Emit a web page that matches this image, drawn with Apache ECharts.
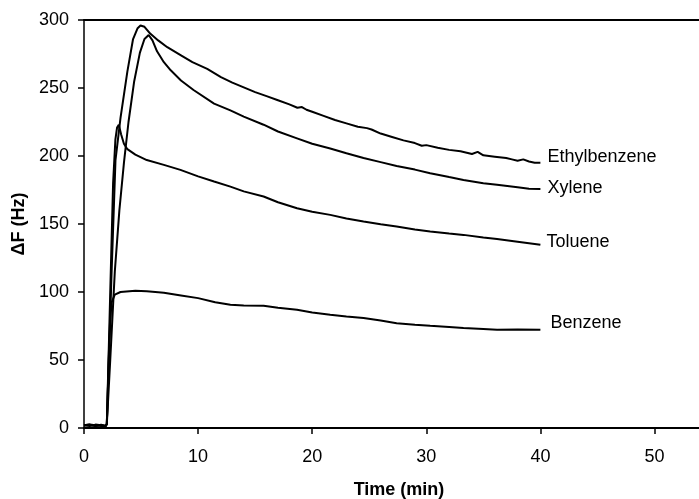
<!DOCTYPE html>
<html>
<head>
<meta charset="utf-8">
<script src="https://cdn.jsdelivr.net/npm/echarts@6/dist/echarts.min.js"></script>
<style>html,body{margin:0;padding:0;background:#fff}#c{width:699px;height:499px}</style>
</head>
<body>
<div id="c"></div>
<script>
// ---- data (time in min, ΔF in Hz) ----
var xTicks = [0, 10, 20, 30, 40, 50];
var yTicks = [0, 50, 100, 150, 200, 250, 300];

var ethylT = [0,0.5,1,1.5,1.9,2.0,2.4,2.76,3.2,3.8,4.3,4.7,4.95,5.3,5.8,6.5,7.3,8.5,9.5,10.8,12,13,14,15,16,17,18,18.7,19.1,19.5,20,21,22,23,24,24.8,25.2,26,27,28,29,29.6,30,31,32,33,34,34.5,35,36,37,37.5,38,38.5,39,39.5,40];
var ethylY = [2,2.5,1.5,2,1.5,3,110,197,228,262,286,294,296,295,290,285,280,274,269,264,258,254,250.5,247,244,241,238,235.5,236,234,232.5,229.5,226.5,224,221.5,220.5,219.5,216.5,214,211.5,209.5,207.5,208,206,204.5,203.5,201.5,203,200.5,199.5,198.5,197.5,196.5,197.5,196,195,195];

var xyleneT = [0,0.5,1,1.5,1.9,2.0,2.3,2.7,3.1,3.5,3.9,4.4,4.9,5.3,5.67,6.0,6.4,7.0,7.6,8.5,9.6,11.4,12.83,14,15.74,17,18.67,20,21.58,23,24.5,26,27.4,29,30.34,32,33.26,35,36.2,38,39,40];
var xyleneY = [2,1.5,2.5,2,1.5,3,50,115,160,195,225,255,276,286,289,285,277,269,263,255.5,248.5,238.5,233.5,229,223,218,213,209,205.5,202,198.5,195.5,192.7,190,187.3,184.5,182.4,180,178.8,177,176,175.8];

var tolueneT = [0,0.5,1,1.5,1.9,2.0,2.3,2.55,2.75,2.9,3.05,3.25,3.5,3.8,4.5,5.5,7,8.45,10,11.4,12.83,14,15.74,17,18.67,20,21.58,23,24.5,26,27.4,29,30.34,32,33.26,35,36.2,38,40];
var tolueneY = [2,2,1.5,2.5,1.5,3,100,180,212,221,223,216,209,205,201,197,193.5,189.8,185,181.2,177.5,174,170.2,166,161.6,159,156.7,154,151.8,149.8,148.1,146,144.5,143,142,140,138.9,137,134.7];

var benzeneT = [0,0.5,1,1.5,1.9,2.0,2.2,2.4,2.7,3.2,4.5,5.5,7,8.5,10,11.5,12.83,14,15.74,17,18.67,20,21.58,23,24.5,26,27.4,29,30.34,32,33.26,35,36.2,38,40];
var benzeneY = [2,2.5,2,1.5,1.5,3,60,92,98,100,101,100.5,99.5,97.5,95.5,92.5,90.6,90,89.9,88.5,86.9,85,83.2,82,80.8,79,77.1,76,75.2,74.3,73.5,72.8,72.2,72.5,72.2];

var seriesNames = ['Ethylbenzene', 'Xylene', 'Toluene', 'Benzene'];

function zip(t, y) { return t.map(function (v, i) { return [v, y[i]]; }); }

var FONT = 'Arial, "Liberation Sans", Helvetica, sans-serif';
var labelStyle = [
  { distance: 7, offset: [0, -6] },
  { distance: 7, offset: [0, -1] },
  { distance: 6, offset: [0, -3] },
  { distance: 10, offset: [0, -7] }
];
var allData = [zip(ethylT, ethylY), zip(xyleneT, xyleneY), zip(tolueneT, tolueneY), zip(benzeneT, benzeneY)];

var chart = echarts.init(document.getElementById('c'), null, { renderer: 'canvas' });
chart.setOption({
  animation: false,
  backgroundColor: '#fff',
  grid: { left: 84, right: 0, top: 20, bottom: 71, containLabel: false, outerBoundsMode: 'none' },
  xAxis: [{
    type: 'value', min: 0, max: 53.9, interval: 10,
    name: 'Time (min)', nameLocation: 'middle', nameGap: 53,
    nameTextStyle: { fontFamily: FONT, fontSize: 18, fontWeight: 'bold', color: '#000', padding: [0, 0, 0, 15] },
    axisLine: { show: true, lineStyle: { color: '#000', width: 2 } },
    axisTick: { show: true, length: 6, customValues: xTicks, lineStyle: { color: '#000', width: 1.5 } },
    axisLabel: { fontFamily: FONT, fontSize: 18, color: '#000', margin: 20, customValues: xTicks },
    splitLine: { show: false }
  }, {
    type: 'value', position: 'top', min: 0, max: 53.9,
    axisLine: { show: true, onZero: false, lineStyle: { color: '#000', width: 2 } },
    axisTick: { show: false }, axisLabel: { show: false }, splitLine: { show: false }
  }],
  yAxis: {
    type: 'value', min: 0, max: 300, interval: 50,
    name: 'ΔF (Hz)', nameLocation: 'middle', nameGap: 44, nameRotate: 90,
    nameTextStyle: { fontFamily: FONT, fontSize: 18, fontWeight: 'bold', color: '#000' },
    axisLine: { show: true, lineStyle: { color: '#000', width: 1.5 } },
    axisTick: { show: true, length: 6, customValues: yTicks, lineStyle: { color: '#000', width: 1.5 } },
    axisLabel: { fontFamily: FONT, fontSize: 18, color: '#000', margin: 15, customValues: yTicks },
    splitLine: { show: false }
  },
  series: seriesNames.map(function (n, i) {
    return {
      name: n, type: 'line', xAxisIndex: 0, data: allData[i],
      showSymbol: false, symbol: 'none', smooth: false,
      lineStyle: { color: '#000', width: 2 },
      endLabel: {
        show: true, formatter: n, fontFamily: FONT, fontSize: 18, color: '#000',
        distance: labelStyle[i].distance, offset: labelStyle[i].offset
      }
    };
  })
});
</script>
</body>
</html>
